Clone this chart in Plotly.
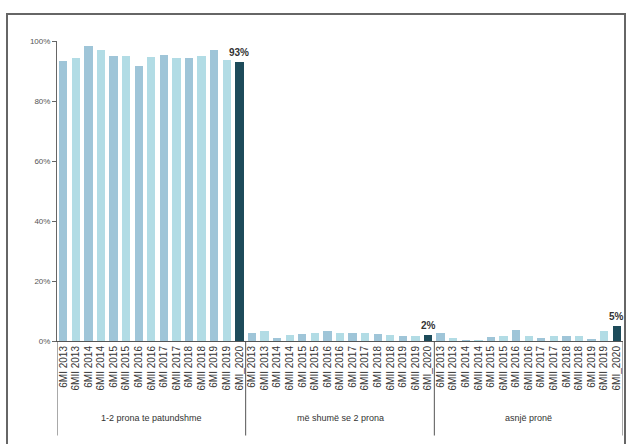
import plotly.graph_objects as go

# Periods (half-years) shown under each group
periods = ["6MI 2013", "6MII 2013", "6MI 2014", "6MII 2014", "6MI 2015", "6MII 2015",
           "6MI 2016", "6MII 2016", "6MI 2017", "6MII 2017", "6MI 2018", "6MII 2018",
           "6MI 2019", "6MII 2019", "6MI_2020"]

groups = ["1-2 prona te patundshme", "më shumë se 2 prona", "asnjë pronë"]

share_1_2 = [93.3, 94.5, 98.2, 96.9, 95.1, 95.1, 91.8, 94.7, 95.3, 94.2, 94.2, 94.9, 97.1, 93.6, 93.0]
share_more2 = [2.8, 3.4, 0.9, 2.0, 2.5, 2.7, 3.2, 2.6, 2.6, 2.6, 2.4, 2.0, 1.8, 1.8, 2.0]
share_none = [2.8, 1.0, 0.3, 0.2, 1.5, 1.7, 3.8, 1.6, 1.0, 1.8, 1.6, 1.7, 0.5, 3.5, 5.0]

series = [share_1_2, share_more2, share_none]

light_a = "#9fc5d8"
light_b = "#b2dce5"
dark = "#1d4b5a"
font = "Liberation Sans"

n = len(periods)
xs, ys, colors, ticktext = [], [], [], []
for g, vals in enumerate(series):
    for i, v in enumerate(vals):
        xs.append(g * n + i)
        ys.append(v)
        ticktext.append(periods[i])
        if i == n - 1:
            colors.append(dark)
        else:
            colors.append(light_a if i % 2 == 0 else light_b)

fig = go.Figure()
fig.add_trace(go.Bar(x=xs, y=ys, marker=dict(color=colors, line=dict(width=0)),
                     width=0.66, showlegend=False, hoverinfo="y"))

# value labels on the latest period of each group
for g, vals in enumerate(series):
    fig.add_annotation(x=g * n + n - 1, y=vals[-1], text=f"<b>{round(vals[-1])}%</b>",
                       showarrow=False, yanchor="bottom", yshift=2,
                       font=dict(family=font, size=10, color="#333333"))

# group labels and separators below the axis
sep_color = "#555555"
for g, name in enumerate(groups):
    fig.add_annotation(x=g * n + (n - 1) / 2, y=-0.28, xref="x", yref="paper",
                       text=name, showarrow=False,
                       font=dict(family=font, size=9, color="#333333"))
for k in range(len(groups) + 1):
    fig.add_shape(type="line", xref="x", yref="paper",
                  x0=k * n - 0.5, x1=k * n - 0.5, y0=0, y1=-0.315,
                  line=dict(color=sep_color, width=1))

# outer frame
fig.add_shape(type="rect", xref="paper", yref="paper",
              x0=(7 - 57) / 566, x1=(625 - 57) / 566, y0=-0.5, y1=(341 - 14) / 300,
              line=dict(color="#666666", width=2), layer="below")

fig.update_layout(
    width=627, height=444,
    margin=dict(l=57, r=4, t=41, b=103),
    paper_bgcolor="white", plot_bgcolor="white",
    bargap=0,
    font=dict(family=font, size=9, color="#444444"),
    xaxis=dict(range=[-0.5, len(groups) * n - 0.5], tickmode="array",
               tickvals=xs, ticktext=ticktext, tickangle=-90,
               showline=True, linecolor=sep_color, linewidth=1,
               showgrid=False, zeroline=False, ticks="",
               tickfont=dict(family=font, size=10, color="#333333")),
    yaxis=dict(range=[0, 100], tickvals=[0, 20, 40, 60, 80, 100],
               ticktext=["0%", "20%", "40%", "60%", "80%", "100%"],
               showline=True, linecolor="#666666", linewidth=1,
               ticks="outside", ticklen=4, tickcolor="#666666",
               showgrid=False, zeroline=False,
               tickfont=dict(family=font, size=8, color="#555555")),
)

fig.write_html("out.html")
